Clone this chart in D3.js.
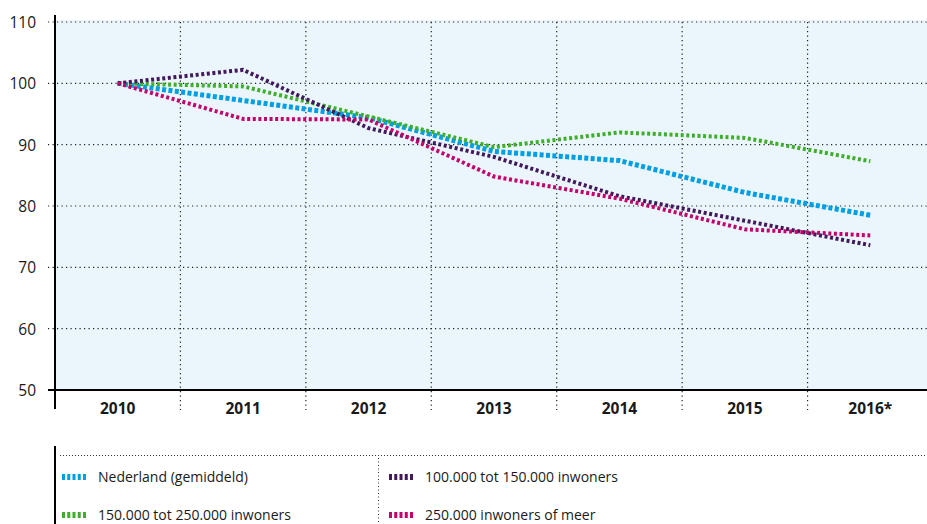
<!DOCTYPE html>
<html>
<head>
<meta charset="utf-8">
<script src="https://cdn.jsdelivr.net/npm/d3@7"></script>
<style>
  body { margin: 0; background: #fff; }
  svg text { font-family: "Open Sans", "DejaVu Sans", sans-serif; fill: #1a1a1a; }
</style>
</head>
<body>
<div id="chart"></div>
<script>
// data
const years = ["2010", "2011", "2012", "2013", "2014", "2015", "2016*"];
const nederland = [100, 97.2, 94.4, 88.9, 87.4, 82.2, 78.5];
const middel = [100, 102.2, 92.7, 88.0, 81.6, 77.6, 73.6];      // 100.000 tot 150.000
const groot = [100, 99.5, 94.6, 89.6, 92.0, 91.1, 87.3];        // 150.000 tot 250.000
const grootst = [100, 94.2, 94.1, 84.8, 81.2, 76.2, 75.2];      // 250.000 of meer
const yTicks = [50, 60, 70, 80, 90, 100, 110];

const series = [
    { name: "Nederland (gemiddeld)", values: nederland, color: "#009fe3", w: 5, dash: "4,2.4" },
    { name: "100.000 tot 150.000 inwoners", values: middel, color: "#42195a", w: 4, dash: "3,2.6" },
    { name: "150.000 tot 250.000 inwoners", values: groot, color: "#3fae2a", w: 4, dash: "3,2.6" },
    { name: "250.000 inwoners of meer", values: grootst, color: "#c4006a", w: 4, dash: "3,2.6" }
];

const W = 927, H = 524;
const plotLeft = 55, plotTop = 22, plotBottom = 390, plotRight = 933;

const svg = d3.select("#chart")
    .append("svg")
    .attr("width", W)
    .attr("height", H);

const x = d3.scaleBand().domain(years).range([plotLeft, plotRight]).padding(0);
const y = d3.scaleLinear().domain([50, 110]).range([plotBottom, plotTop]);

// plot background
svg.append("rect")
    .attr("x", plotLeft).attr("y", y(110) - 2)
    .attr("width", plotRight - plotLeft).attr("height", plotBottom - y(110) + 2)
    .attr("fill", "#eaf5fc");

// horizontal dotted grid
svg.append("g")
    .selectAll("line")
    .data(yTicks.filter(d => d > 50))
    .join("line")
    .attr("x1", 48).attr("x2", W)
    .attr("y1", d => y(d)).attr("y2", d => y(d))
    .attr("stroke", "#222").attr("stroke-width", 1.2)
    .attr("stroke-dasharray", "1.2,3.3");

// vertical dotted grid at the band edges
svg.append("g")
    .selectAll("line")
    .data(years.slice(0, -1))
    .join("line")
    .attr("x1", d => x(d) + x.bandwidth()).attr("x2", d => x(d) + x.bandwidth())
    .attr("y1", y(110)).attr("y2", 410)
    .attr("stroke", "#222").attr("stroke-width", 1.2)
    .attr("stroke-dasharray", "1.2,3.3");

// y axis labels
const yAxis = svg.append("g")
    .attr("transform", `translate(${plotLeft - 19},0)`)
    .call(d3.axisLeft(y).tickValues(yTicks).tickSize(0).tickPadding(0));
yAxis.select(".domain").remove();
yAxis.selectAll("text")
    .attr("font-size", 15.5)
    .attr("dy", "0.35em");

// x axis labels
const xAxis = svg.append("g")
    .attr("transform", `translate(0,${plotBottom + 11})`)
    .call(d3.axisBottom(x).tickSize(0).tickPadding(0));
xAxis.select(".domain").remove();
xAxis.selectAll("text")
    .attr("font-size", 15.5)
    .attr("font-weight", "bold")
    .attr("dy", "0.85em");

// axis lines
svg.append("line")
    .attr("x1", 48).attr("x2", W)
    .attr("y1", plotBottom).attr("y2", plotBottom)
    .attr("stroke", "#000").attr("stroke-width", 2);
svg.append("line")
    .attr("x1", plotLeft).attr("x2", plotLeft)
    .attr("y1", 15).attr("y2", 409)
    .attr("stroke", "#000").attr("stroke-width", 2);

// lines
const line = d3.line()
    .x((d, i) => x(years[i]) + x.bandwidth() / 2)
    .y(d => y(d))
    .curve(d3.curveLinear);

const drawOrder = [series[0], series[2], series[1], series[3]];
svg.append("g")
    .selectAll("path")
    .data(drawOrder)
    .join("path")
    .attr("d", d => line(d.values))
    .attr("fill", "none")
    .attr("stroke", d => d.color)
    .attr("stroke-width", d => d.w)
    .attr("stroke-linejoin", "round")
    .attr("stroke-dasharray", d => d.dash);

// legend
const lg = svg.append("g");
lg.append("line")
    .attr("x1", plotLeft).attr("x2", plotLeft)
    .attr("y1", 446).attr("y2", H)
    .attr("stroke", "#000").attr("stroke-width", 2);
lg.append("line")
    .attr("x1", 60).attr("x2", W)
    .attr("y1", 455.5).attr("y2", 455.5)
    .attr("stroke", "#333").attr("stroke-width", 1)
    .attr("stroke-dasharray", "1,2");
lg.append("line")
    .attr("x1", 378.5).attr("x2", 378.5)
    .attr("y1", 458).attr("y2", H)
    .attr("stroke", "#333").attr("stroke-width", 1)
    .attr("stroke-dasharray", "1,2.5");

const legendPos = [
    { s: series[0], x: 62, y: 477 },
    { s: series[1], x: 389, y: 477 },
    { s: series[2], x: 62, y: 515 },
    { s: series[3], x: 389, y: 515 }
];
const items = lg.selectAll("g.item")
    .data(legendPos)
    .join("g")
    .attr("class", "item")
    .attr("transform", d => `translate(${d.x},${d.y})`);
items.append("line")
    .attr("x1", 0).attr("x2", 24)
    .attr("y1", 0).attr("y2", 0)
    .attr("stroke", d => d.s.color)
    .attr("stroke-width", 6)
    .attr("stroke-dasharray", "3,2.25");
items.append("text")
    .attr("x", 36)
    .attr("dy", "0.35em")
    .attr("font-size", 14)
    .text(d => d.s.name);
</script>
</body>
</html>
